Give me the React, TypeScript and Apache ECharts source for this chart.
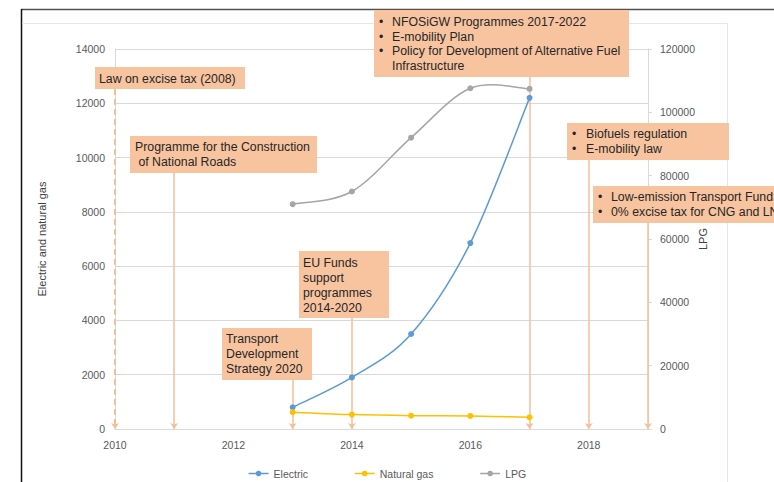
import React, { useEffect, useRef } from "react";
import * as echarts from "echarts";

// ---------- data ----------
const years = [2013, 2014, 2015, 2016, 2017];
const electric = [800, 1900, 3500, 6850, 12200];
const naturalGas = [620, 530, 490, 480, 430];
const lpg = [71000, 75000, 92000, 107600, 107400];

const xMin = 2010;
const xMax = 2019;
const xStep = 2;
const leftMax = 14000;
const leftStep = 2000;
const rightMax = 120000;
const rightStep = 20000;

const eventYears = [2010, 2011, 2013, 2014, 2017, 2018, 2019];
const eventTexts: string[][] = [
  ["Law on excise tax (2008)"],
  ["Programme for the Construction", " of National Roads"],
  ["Transport", "Development", "Strategy 2020"],
  ["EU Funds", "support", "programmes", "2014-2020"],
  [
    "NFOSiGW Programmes 2017-2022",
    "E-mobility Plan",
    "Policy for Development of Alternative Fuel",
    "Infrastructure",
  ],
  ["Biofuels regulation", "E-mobility law"],
  ["Low-emission Transport Fund", "0% excise tax for CNG and LNG"],
];
const eventBullets: boolean[][] = [
  [false],
  [false, false],
  [false, false, false],
  [false, false, false, false],
  [true, true, true, false],
  [true, true],
  [true, true],
];

// ---------- layout ----------
const W = 774;
const H = 482;
const GRID = { left: 115, right: 126, top: 49, bottom: 53 };
const boxLayout = [
  { x: 95, y: 67, w: 150, h: 22, tx: 99, bx: 0, ty: 78.5, lh: 15 },
  { x: 130, y: 136, w: 187, h: 37, tx: 135, bx: 0, ty: 147, lh: 15 },
  { x: 222, y: 328, w: 90, h: 52, tx: 226, bx: 0, ty: 339, lh: 15 },
  { x: 299, y: 251, w: 90, h: 67, tx: 303, bx: 0, ty: 263, lh: 15 },
  { x: 374, y: 10, w: 255, h: 67, tx: 392, bx: 379, ty: 22, lh: 14.7 },
  { x: 567, y: 123, w: 162, h: 37, tx: 586, bx: 572, ty: 134, lh: 15 },
  { x: 593, y: 186, w: 200, h: 37, tx: 611, bx: 598, ty: 197, lh: 15 },
];

const BOX_FILL = "#F8C4A0";
const LINE_COL = "#F7BE96";
const AXIS_COL = "#D9D9D9";
const LABEL_COL = "#595959";
const FONT = '"Liberation Sans", Arial, sans-serif';

const COLORS = { Electric: "#5B9BD5", "Natural gas": "#FFC000", LPG: "#A5A5A5" };

export default function App() {
  const ref = useRef<HTMLDivElement>(null);

  useEffect(() => {
    if (!ref.current) return;
    const chart = echarts.init(ref.current, undefined, { renderer: "svg" });

    const gridBottomPx = H - GRID.bottom;
    const gridTopPx = GRID.top;
    const pxToLeft = (py: number) =>
      ((gridBottomPx - py) / (gridBottomPx - gridTopPx)) * leftMax;

    const markData = eventYears.map((yr, i) => {
      const b = boxLayout[i];
      return [
        {
          coord: [yr, pxToLeft(b.y + b.h)],
          lineStyle:
            i === 0
              ? { type: [6, 4], width: 2, color: LINE_COL }
              : { type: "solid", width: 1.5, color: LINE_COL },
        },
        { coord: [yr, 0] },
      ];
    });

    const graphics: any[] = [
      {
        type: "line",
        shape: { x1: 21, y1: 9.5, x2: W, y2: 9.5 },
        style: { stroke: "#505050", lineWidth: 1.5 },
        z: 1,
      },
      {
        type: "line",
        shape: { x1: 21.5, y1: 9, x2: 21.5, y2: H },
        style: { stroke: "#111111", lineWidth: 1.5 },
        z: 1,
      },
      {
        type: "line",
        shape: { x1: 22, y1: 23.5, x2: 727.5, y2: 23.5 },
        style: { stroke: "#E6E6E6", lineWidth: 1 },
        z: 1,
      },
      {
        type: "line",
        shape: { x1: 727.5, y1: 23.5, x2: 727.5, y2: H },
        style: { stroke: "#E6E6E6", lineWidth: 1 },
        z: 1,
      },
    ];

    eventTexts.forEach((lines, i) => {
      const b = boxLayout[i];
      graphics.push({
        type: "rect",
        shape: { x: b.x, y: b.y, width: b.w, height: b.h },
        style: { fill: BOX_FILL },
        z: 100,
      });
      lines.forEach((t, j) => {
        const y = b.ty + j * b.lh;
        if (eventBullets[i][j]) {
          graphics.push({
            type: "text",
            x: b.bx,
            y,
            style: {
              text: "•",
              fontSize: 12.3,
              fontFamily: FONT,
              fill: "#262626",
              verticalAlign: "middle",
              align: "left",
            },
            z: 101,
          });
        }
        graphics.push({
          type: "text",
          x: b.tx,
          y,
          style: {
            text: t,
            fontSize: 12.3,
            fontFamily: FONT,
            fill: "#262626",
            verticalAlign: "middle",
            align: "left",
          },
          z: 101,
        });
      });
    });

    const toPairs = (vals: number[]) => years.map((y, i) => [y, vals[i]]);

    // Excel-like smoothed line (Catmull-Rom bezier segments) drawn through the axes' scales
    const curveSeries = (name: string, vals: number[], yAxisIndex: number) => ({
      type: "custom",
      name: name + " curve",
      yAxisIndex,
      z: 3,
      silent: true,
      data: toPairs(vals),
      renderItem: (params: any, api: any) => {
        const i = params.dataIndex;
        const n = years.length;
        if (i >= n - 1) return null;
        const P = (k: number) => {
          const kk = Math.max(0, Math.min(n - 1, k));
          return api.coord([years[kk], vals[kk]]);
        };
        const p0 = P(i - 1);
        const p1 = P(i);
        const p2 = P(i + 1);
        const p3 = P(i + 2);
        const t = 1 / 6;
        return {
          type: "bezierCurve",
          shape: {
            x1: p1[0],
            y1: p1[1],
            x2: p2[0],
            y2: p2[1],
            cpx1: p1[0] + (p2[0] - p0[0]) * t,
            cpy1: p1[1] + (p2[1] - p0[1]) * t,
            cpx2: p2[0] - (p3[0] - p1[0]) * t,
            cpy2: p2[1] - (p3[1] - p1[1]) * t,
          },
          style: {
            stroke: (COLORS as any)[name],
            lineWidth: 1.5,
            fill: null,
          },
        };
      },
    });

    const markerSeries = (name: string, vals: number[], yAxisIndex: number) => ({
      type: "line" as const,
      name,
      yAxisIndex,
      data: toPairs(vals),
      symbol: "circle",
      symbolSize: 6,
      z: 5,
      itemStyle: { color: (COLORS as any)[name] },
      lineStyle: { color: (COLORS as any)[name], width: 1.5, opacity: 0 },
    });

    chart.setOption({
      animation: false,
      backgroundColor: "#ffffff",
      grid: { ...GRID, containLabel: false },
      legend: {
        data: ["Electric", "Natural gas", "LPG"],
        left: "center",
        top: 463,
        itemGap: 46,
        itemWidth: 20,
        itemHeight: 7,
        lineStyle: { opacity: 1, width: 1.5 },
        textStyle: { fontSize: 10.5, color: LABEL_COL, fontFamily: FONT },
      },
      xAxis: {
        type: "value",
        min: xMin,
        max: xMax,
        interval: xStep,
        axisLine: { show: true, lineStyle: { color: AXIS_COL, width: 1 } },
        axisTick: { show: false },
        splitLine: { show: false },
        axisLabel: {
          showMaxLabel: false,
          formatter: (v: number) => String(v),
          color: LABEL_COL,
          fontSize: 10.5,
          fontFamily: FONT,
          margin: 10,
        },
      },
      yAxis: [
        {
          type: "value",
          min: 0,
          max: leftMax,
          interval: leftStep,
          name: "Electric and natural gas",
          nameLocation: "middle",
          nameRotate: 90,
          nameGap: 68,
          nameMoveOverlap: false,
          nameTextStyle: { fontSize: 11, color: "#404040", fontFamily: FONT },
          axisLine: { show: true, lineStyle: { color: AXIS_COL } },
          axisTick: { show: false },
          splitLine: { show: true, lineStyle: { color: AXIS_COL, width: 1 } },
          axisLabel: {
            formatter: (v: number) => String(v),
            color: LABEL_COL,
            fontSize: 10.5,
            fontFamily: FONT,
            margin: 10,
          },
        },
        {
          type: "value",
          min: 0,
          max: rightMax,
          interval: rightStep,
          position: "right",
          name: "LPG",
          nameLocation: "middle",
          nameRotate: 90,
          nameGap: 49,
          nameMoveOverlap: false,
          nameTextStyle: { fontSize: 11, color: "#404040", fontFamily: FONT },
          axisLine: { show: true, lineStyle: { color: AXIS_COL } },
          axisTick: { show: true, length: 4, lineStyle: { color: AXIS_COL } },
          splitLine: { show: false },
          axisLabel: {
            formatter: (v: number) => String(v),
            color: LABEL_COL,
            fontSize: 10.5,
            fontFamily: FONT,
            margin: 12,
          },
        },
      ],
      series: [
        markerSeries("Electric", electric, 0),
        markerSeries("Natural gas", naturalGas, 0),
        markerSeries("LPG", lpg, 1),
        curveSeries("Electric", electric, 0),
        curveSeries("Natural gas", naturalGas, 0),
        curveSeries("LPG", lpg, 1),
        {
          type: "line",
          name: "events",
          yAxisIndex: 0,
          data: [],
          z: 4,
          markLine: {
            silent: true,
            symbol: ["none", "arrow"],
            symbolSize: 6,
            label: { show: false },
            lineStyle: { color: LINE_COL, width: 1.5, type: "solid" },
            itemStyle: { color: LINE_COL },
            data: markData as any,
          },
        },
      ],
      graphic: graphics,
    });

    return () => chart.dispose();
  }, []);

  return (
    <div
      ref={ref}
      style={{ position: "fixed", left: 0, top: 0, width: W, height: H }}
    />
  );
}
